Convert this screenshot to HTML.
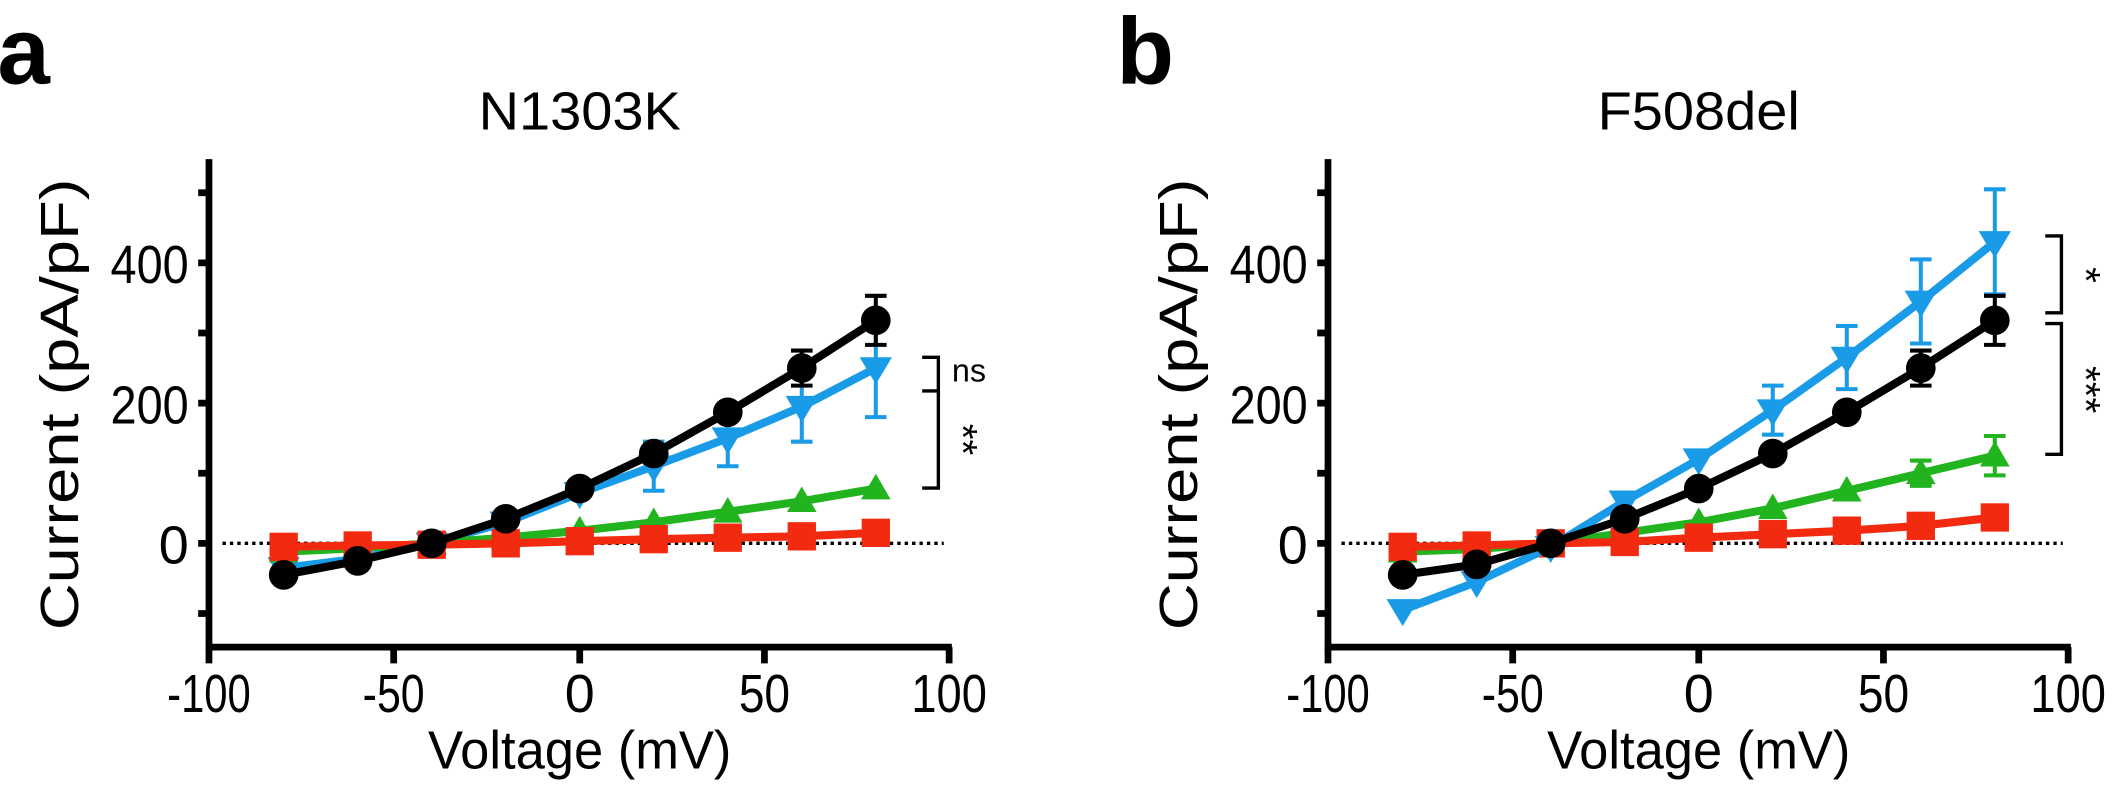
<!DOCTYPE html>
<html><head><meta charset="utf-8"><style>html,body{margin:0;padding:0;background:#fff}svg{display:block}</style></head>
<body>
<svg width="2114" height="808" viewBox="0 0 1568 599.3" xmlns="http://www.w3.org/2000/svg" xmlns:xlink="http://www.w3.org/1999/xlink" font-family="Liberation Sans, sans-serif">
<defs>
<circle id="mc" r="11" fill="#000"/>
<rect id="ms" x="-10.5" y="-10.5" width="21" height="21" fill="#f22a10"/>
<path id="mu" d="M-11 8h22l-11-19z" fill="#22b41e"/>
<path id="md" d="M-12 -8h24l-12 20z" fill="#1a9be8"/>
</defs>
<rect width="1568" height="600" fill="#fff"/>

<!-- Panel a -->
<text x="-2" y="62" font-size="70" font-weight="bold">a</text>
<text x="430" y="96" font-size="40" text-anchor="middle" textLength="150" lengthAdjust="spacingAndGlyphs">N1303K</text>
<text transform="translate(58,300) rotate(-90)" font-size="40" text-anchor="middle" textLength="335" lengthAdjust="spacingAndGlyphs">Current (pA/pF)</text>
<text x="430" y="570" font-size="40" text-anchor="middle" textLength="225" lengthAdjust="spacingAndGlyphs">Voltage (mV)</text>
<g stroke="#000" stroke-width="5" fill="none">
<path d="M155 118V482M153 480H706"/>
<path d="M147 143h8M147 195h8M147 247h8M147 299h8M147 351h8M147 403h8M147 455h8"/>
<path d="M155 480v12M292 480v12M430 480v12M567 480v12M704 480v12"/>
</g>
<g font-size="40" text-anchor="end" lengthAdjust="spacingAndGlyphs"><text x="140" y="210" textLength="58" lengthAdjust="spacingAndGlyphs">400</text><text x="140" y="314" textLength="58" lengthAdjust="spacingAndGlyphs">200</text><text x="140" y="418">0</text></g>
<g font-size="40" text-anchor="middle"><text x="155" y="528" textLength="62" lengthAdjust="spacingAndGlyphs">-100</text><text x="292" y="528" textLength="46" lengthAdjust="spacingAndGlyphs">-50</text><text x="430" y="528">0</text><text x="567" y="528" textLength="38" lengthAdjust="spacingAndGlyphs">50</text><text x="704" y="528" textLength="56" lengthAdjust="spacingAndGlyphs">100</text></g>
<line x1="165" y1="403" x2="700" y2="403" stroke="#000" stroke-width="2.5" stroke-dasharray="2.5,3"/>

<!-- a: blue -->
<g stroke="#1a9be8" stroke-width="3" fill="none">
<path d="M484.9 364V327.6M476.9 364h16M476.9 327.6h16"/>
<path d="M539.8 345.8V304.2M531.8 345.8h16M531.8 304.2h16"/>
<path d="M594.7 327.6V275.6M586.7 327.6h16M586.7 275.6h16"/>
<path d="M649.6 309.4V236.6M641.6 309.4h16M641.6 236.6h16"/>
</g>
<path d="M210.4 421.2L265.3 414.4L320.2 403L375.1 387.4L430 365.6L484.9 345.8L539.8 325L594.7 301.6L649.6 273" stroke="#1a9be8" stroke-width="6" fill="none" stroke-linejoin="round"/>
<use xlink:href="#md" x="210.4" y="421.2"/><use xlink:href="#md" x="265.3" y="414.4"/><use xlink:href="#md" x="320.2" y="403"/><use xlink:href="#md" x="375.1" y="387.4"/><use xlink:href="#md" x="430" y="365.6"/><use xlink:href="#md" x="484.9" y="345.8"/><use xlink:href="#md" x="539.8" y="325"/><use xlink:href="#md" x="594.7" y="301.6"/><use xlink:href="#md" x="649.6" y="273"/>
<!-- a: green -->
<path d="M210.4 409.2L265.3 406.6L320.2 403L375.1 398.8L430 393.6L484.9 387.4L539.8 379.6L594.7 371.8L649.6 362.4" stroke="#22b41e" stroke-width="6" fill="none"/>
<use xlink:href="#mu" x="210.4" y="409.2"/><use xlink:href="#mu" x="265.3" y="406.6"/><use xlink:href="#mu" x="320.2" y="403"/><use xlink:href="#mu" x="375.1" y="398.8"/><use xlink:href="#mu" x="430" y="393.6"/><use xlink:href="#mu" x="484.9" y="387.4"/><use xlink:href="#mu" x="539.8" y="379.6"/><use xlink:href="#mu" x="594.7" y="371.8"/><use xlink:href="#mu" x="649.6" y="362.4"/>
<!-- a: red -->
<path d="M210.4 405.6L265.3 404.6L320.2 404L375.1 403L430 401.4L484.9 399.9L539.8 398.8L594.7 397.8L649.6 395.2" stroke="#f22a10" stroke-width="6" fill="none"/>
<use xlink:href="#ms" x="210.4" y="405.6"/><use xlink:href="#ms" x="265.3" y="404.6"/><use xlink:href="#ms" x="320.2" y="404"/><use xlink:href="#ms" x="375.1" y="403"/><use xlink:href="#ms" x="430" y="401.4"/><use xlink:href="#ms" x="484.9" y="399.9"/><use xlink:href="#ms" x="539.8" y="398.8"/><use xlink:href="#ms" x="594.7" y="397.8"/><use xlink:href="#ms" x="649.6" y="395.2"/>
<!-- a: black -->
<g stroke="#000" stroke-width="3" fill="none">
<path d="M594.7 286V260M586.7 286h16M586.7 260h16"/>
<path d="M649.6 255.8V219.4M641.6 255.8h16M641.6 219.4h16"/>
</g>
<path d="M210.4 426.4L265.3 416L320.2 403L375.1 384.8L430 362.4L484.9 336.4L539.8 305.8L594.7 273L649.6 237.6" stroke="#000" stroke-width="6" fill="none"/>
<use xlink:href="#mc" x="210.4" y="426.4"/><use xlink:href="#mc" x="265.3" y="416"/><use xlink:href="#mc" x="320.2" y="403"/><use xlink:href="#mc" x="375.1" y="384.8"/><use xlink:href="#mc" x="430" y="362.4"/><use xlink:href="#mc" x="484.9" y="336.4"/><use xlink:href="#mc" x="539.8" y="305.8"/><use xlink:href="#mc" x="594.7" y="273"/><use xlink:href="#mc" x="649.6" y="237.6"/>

<!-- Panel b -->
<text x="828" y="62" font-size="70" font-weight="bold">b</text>
<text x="1260" y="96" font-size="40" text-anchor="middle" textLength="150" lengthAdjust="spacingAndGlyphs">F508del</text>
<text transform="translate(888,300) rotate(-90)" font-size="40" text-anchor="middle" textLength="335" lengthAdjust="spacingAndGlyphs">Current (pA/pF)</text>
<text x="1260" y="570" font-size="40" text-anchor="middle" textLength="225" lengthAdjust="spacingAndGlyphs">Voltage (mV)</text>
<g stroke="#000" stroke-width="5" fill="none">
<path d="M985 118V482M983 480H1536"/>
<path d="M977 143h8M977 195h8M977 247h8M977 299h8M977 351h8M977 403h8M977 455h8"/>
<path d="M985 480v12M1122 480v12M1260 480v12M1397 480v12M1534 480v12"/>
</g>
<g font-size="40" text-anchor="end"><text x="970" y="210" textLength="58" lengthAdjust="spacingAndGlyphs">400</text><text x="970" y="314" textLength="58" lengthAdjust="spacingAndGlyphs">200</text><text x="970" y="418">0</text></g>
<g font-size="40" text-anchor="middle"><text x="985" y="528" textLength="62" lengthAdjust="spacingAndGlyphs">-100</text><text x="1122" y="528" textLength="46" lengthAdjust="spacingAndGlyphs">-50</text><text x="1260" y="528">0</text><text x="1397" y="528" textLength="38" lengthAdjust="spacingAndGlyphs">50</text><text x="1534" y="528" textLength="56" lengthAdjust="spacingAndGlyphs">100</text></g>
<line x1="995" y1="403" x2="1530" y2="403" stroke="#000" stroke-width="2.5" stroke-dasharray="2.5,3"/>

<!-- b: green -->
<g stroke="#22b41e" stroke-width="3" fill="none">
<path d="M1424.7 360.4V341.6M1416.7 360.4h16M1416.7 341.6h16"/>
<path d="M1479.6 352.6V323.4M1471.6 352.6h16M1471.6 323.4h16"/>
</g>
<path d="M1040.4 409.2L1095.3 407.2L1150.2 403L1205.1 395.2L1260 387.4L1314.9 377L1369.8 364L1424.7 351L1479.6 338" stroke="#22b41e" stroke-width="6" fill="none"/>
<use xlink:href="#mu" x="1040.4" y="409.2"/><use xlink:href="#mu" x="1095.3" y="407.2"/><use xlink:href="#mu" x="1150.2" y="403"/><use xlink:href="#mu" x="1205.1" y="395.2"/><use xlink:href="#mu" x="1260" y="387.4"/><use xlink:href="#mu" x="1314.9" y="377"/><use xlink:href="#mu" x="1369.8" y="364"/><use xlink:href="#mu" x="1424.7" y="351"/><use xlink:href="#mu" x="1479.6" y="338"/>
<!-- b: red -->
<path d="M1040.4 405.6L1095.3 404.6L1150.2 403L1205.1 402L1260 398.8L1314.9 396.2L1369.8 393.6L1424.7 390L1479.6 383.8" stroke="#f22a10" stroke-width="6" fill="none"/>
<use xlink:href="#ms" x="1040.4" y="405.6"/><use xlink:href="#ms" x="1095.3" y="404.6"/><use xlink:href="#ms" x="1150.2" y="403"/><use xlink:href="#ms" x="1205.1" y="402"/><use xlink:href="#ms" x="1260" y="398.8"/><use xlink:href="#ms" x="1314.9" y="396.2"/><use xlink:href="#ms" x="1369.8" y="393.6"/><use xlink:href="#ms" x="1424.7" y="390"/><use xlink:href="#ms" x="1479.6" y="383.8"/>
<!-- b: blue -->
<g stroke="#1a9be8" stroke-width="3" fill="none">
<path d="M1314.9 322.4V286M1306.9 322.4h16M1306.9 286h16"/>
<path d="M1369.8 288.6V241.8M1361.8 288.6h16M1361.8 241.8h16"/>
<path d="M1424.7 254.8V192.4M1416.7 254.8h16M1416.7 192.4h16"/>
<path d="M1479.6 218.4V140.4M1471.6 218.4h16M1471.6 140.4h16"/>
</g>
<path d="M1040.4 452.4L1095.3 431.6L1150.2 405.6L1205.1 371.8L1260 340.6L1314.9 304.2L1369.8 265.2L1424.7 223.6L1479.6 179.4" stroke="#1a9be8" stroke-width="6" fill="none"/>
<use xlink:href="#md" x="1040.4" y="452.4"/><use xlink:href="#md" x="1095.3" y="431.6"/><use xlink:href="#md" x="1150.2" y="405.6"/><use xlink:href="#md" x="1205.1" y="371.8"/><use xlink:href="#md" x="1260" y="340.6"/><use xlink:href="#md" x="1314.9" y="304.2"/><use xlink:href="#md" x="1369.8" y="265.2"/><use xlink:href="#md" x="1424.7" y="223.6"/><use xlink:href="#md" x="1479.6" y="179.4"/>
<!-- b: black -->
<g stroke="#000" stroke-width="3" fill="none">
<path d="M1424.7 286V260M1416.7 286h16M1416.7 260h16"/>
<path d="M1479.6 255.8V219.4M1471.6 255.8h16M1471.6 219.4h16"/>
</g>
<path d="M1040.4 426.4L1095.3 418.6L1150.2 403L1205.1 384.8L1260 362.4L1314.9 336.4L1369.8 305.8L1424.7 273L1479.6 237.6" stroke="#000" stroke-width="6" fill="none"/>
<use xlink:href="#mc" x="1040.4" y="426.4"/><use xlink:href="#mc" x="1095.3" y="418.6"/><use xlink:href="#mc" x="1150.2" y="403"/><use xlink:href="#mc" x="1205.1" y="384.8"/><use xlink:href="#mc" x="1260" y="362.4"/><use xlink:href="#mc" x="1314.9" y="336.4"/><use xlink:href="#mc" x="1369.8" y="305.8"/><use xlink:href="#mc" x="1424.7" y="273"/><use xlink:href="#mc" x="1479.6" y="237.6"/>

<!-- significance -->
<g stroke="#000" stroke-width="2.5" fill="none">
<path d="M684 265h12v25h-12M684 290h12v72h-12"/>
<path d="M1517 175h12v57h-12M1517 240h12v97h-12"/>
</g>
<text x="706" y="283" font-size="24">ns</text>
<text transform="translate(704,326) rotate(90)" font-size="30" text-anchor="middle">**</text>
<text transform="translate(1537,204) rotate(90)" font-size="30" text-anchor="middle">*</text>
<text transform="translate(1537,289) rotate(90)" font-size="30" text-anchor="middle">***</text>
</svg>
</body></html>
